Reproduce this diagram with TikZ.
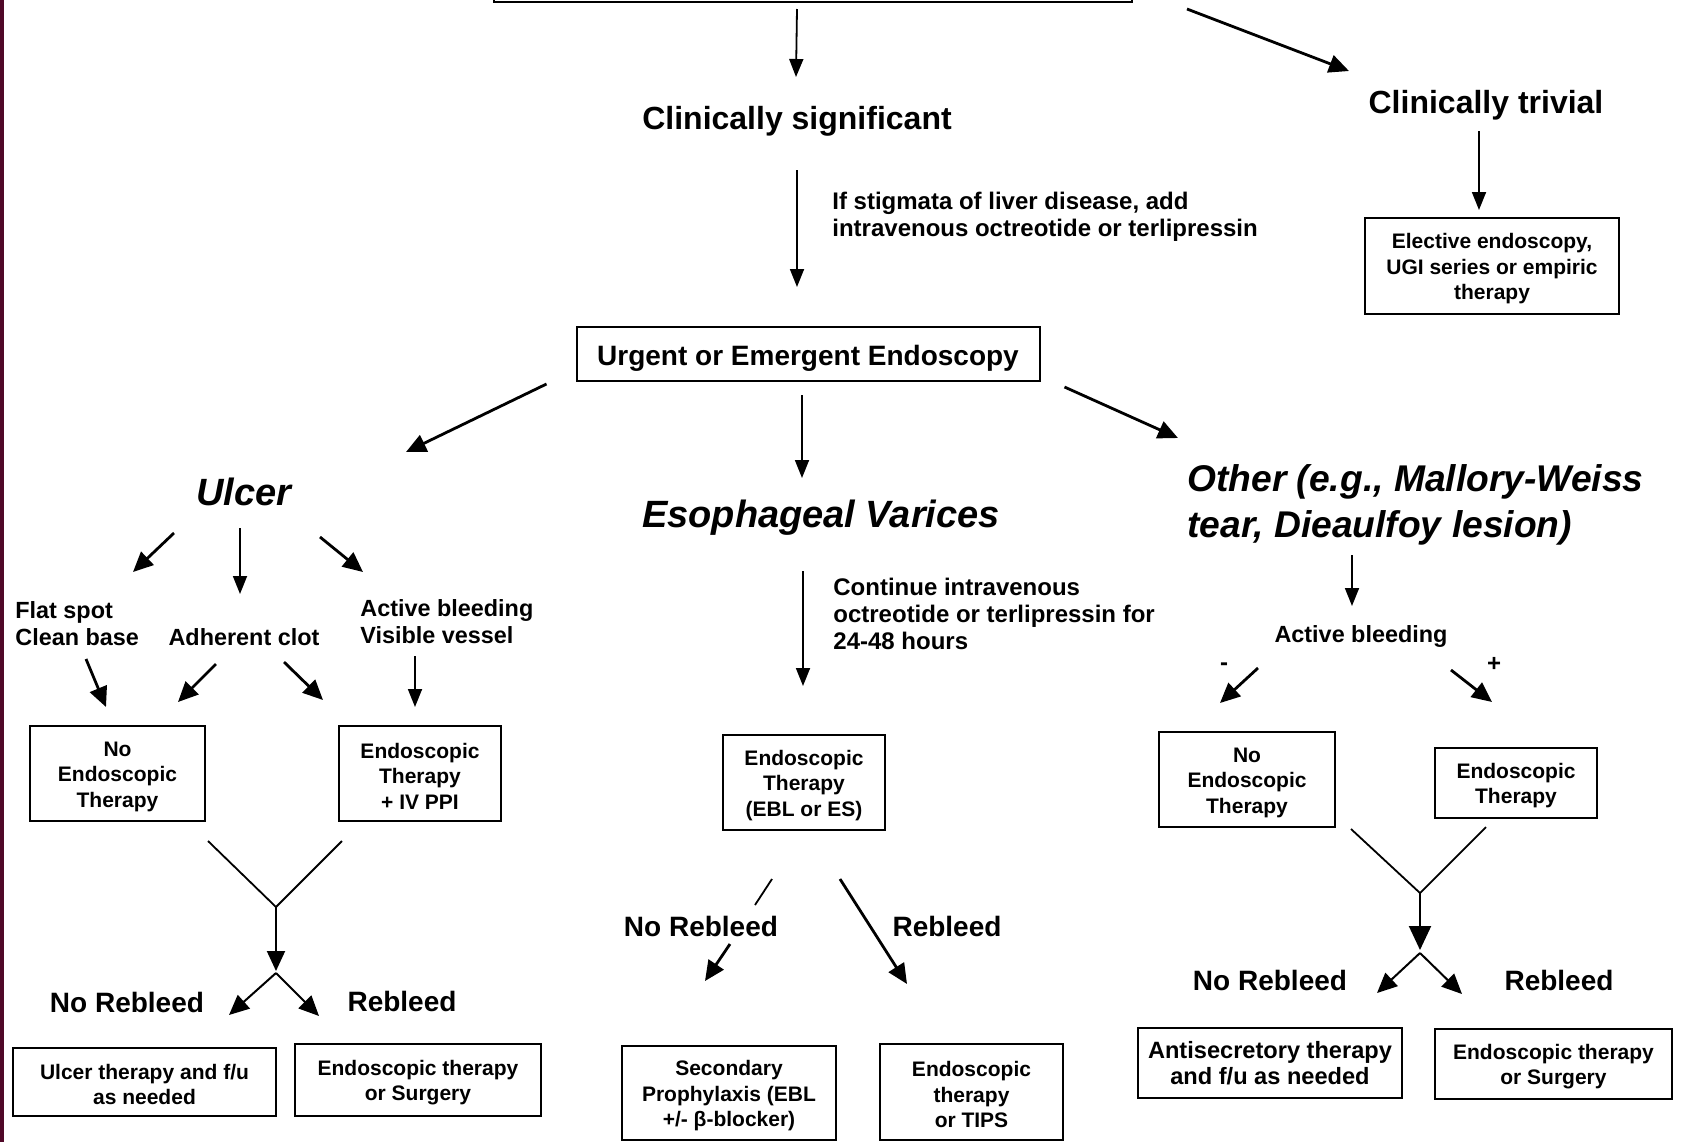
\documentclass[tikz,border=0pt]{standalone}
\usepackage{fontspec}
\setmainfont{Liberation Sans}
\usetikzlibrary{arrows.meta}

\definecolor{edgecol}{RGB}{80,8,40}

\newcommand{\headfont}{\fontsize{16}{19}\selectfont\bfseries}
\newcommand{\midfont}{\fontsize{14}{17}\selectfont\bfseries}
\newcommand{\titlefont}{\fontsize{19}{23}\selectfont\bfseries\itshape}
\newcommand{\notefont}{\fontsize{12}{13.7}\selectfont\bfseries}
\newcommand{\smallfont}{\fontsize{11.7}{13.5}\selectfont\bfseries}
\newcommand{\boxfont}{\fontsize{10.5}{12.7}\selectfont\bfseries}
\newcommand{\boxstrut}{\rule{0pt}{10.3pt}}

\tikzset{
    txt/.style={inner sep=0pt, align=center},
    boxed/.style={draw, line width=1pt, inner sep=0pt, align=center, font=\boxfont},
    arr/.style={line width=0.9pt, -{Triangle[length=9pt,width=7pt]}},
    barr/.style={line width=1.4pt, -{Triangle[length=10pt,width=9pt]}},
    jarr/.style={line width=1pt, -{Triangle[length=10pt,width=9pt]}},
    yline/.style={line width=0.9pt}
}

\begin{document}
\begin{tikzpicture}[x=0.5pt, y=-0.5pt]
	\useasboundingbox (0,0) rectangle (1683,1142);
	\clip (0,0) rectangle (1683,1142);

    % slide edge
	\fill[edgecol] (0,0) rectangle (4,1142);

    % Top of the chart
	\node[boxed, minimum width=319pt, minimum height=40pt, anchor=south] (top) at (813,3) {};
	\node[txt, font=\headfont] (sig) at (797,121) {Clinically significant};
	\node[txt, font=\headfont] (triv) at (1486,105) {Clinically trivial};
	\node[txt, font=\notefont, anchor=west, align=left] (stig) at (832,217) {If stigmata of liver disease, add\\intravenous octreotide or terlipressin};
	\node[boxed, minimum width=127pt, minimum height=48pt] (elect) at (1492,266) {\boxstrut Elective endoscopy,\\UGI series or empiric\\therapy};
	\node[boxed, font=\midfont, minimum width=231.5pt, minimum height=27pt] (urgent) at (808,354) {\rule{0pt}{14.5pt}Urgent or Emergent Endoscopy};

	\draw[arr] ([shift={(-16,6)}]top.south) -- ([shift={(-1,-44)}]sig.center);
	\draw[barr] ([shift={(54,6)}]top.south east) -- ([shift={(-137,-34)}]triv.center);
	\draw[arr] ([shift={(0,49)}]sig.center) -- ([shift={(-11,-39)}]urgent.north);
	\draw[arr] ([shift={(-7,26)}]triv.center) -- ([shift={(-13,-7)}]elect.north);

    % Three findings
	\node[txt, font=\titlefont] (ulcer) at (244,492) {Ulcer};
	\node[txt, font=\titlefont] (varices) at (821,518) {Esophageal Varices};
	\node[txt, font=\fontsize{18.6}{23}\selectfont\bfseries\itshape, anchor=west, align=left] (other) at (1187,505) {Other (e.g., Mallory-Weiss\\tear, Dieaulfoy lesion)};

	\draw[barr] ([shift={(-29,2)}]urgent.south west) -- ([shift={(162,-40)}]ulcer.center);
	\draw[arr] ([shift={(-6,13)}]urgent.south) -- ([shift={(-19,-40)}]varices.center);
	\draw[barr] ([shift={(24,5)}]urgent.south east) -- ([shift={(-9,-67)}]other.west);

    % Ulcer branch
	\node[txt, font=\smallfont, anchor=west, align=left] (flat) at (15,624) {Flat spot\\Clean base};
	\node[txt, font=\smallfont] (adh) at (244,637) {Adherent clot};
	\node[txt, font=\smallfont, anchor=west, align=left] (act) at (360,622) {Active bleeding\\Visible vessel};
	\node[boxed, minimum width=87.5pt, minimum height=47.5pt] (noendo1) at (117.5,773.5) {\boxstrut No\\Endoscopic\\Therapy};
	\node[boxed, minimum width=81pt, minimum height=47.5pt] (endo1) at (420,773.5) {\boxstrut Endoscopic\\Therapy\\+ IV PPI};
	\node[txt, font=\midfont] (norebl1) at (127,1002) {No Rebleed};
	\node[txt, font=\midfont] (rebl1) at (402,1001) {Rebleed};
	\node[boxed, minimum width=131.5pt, minimum height=34pt] (ulcertx) at (144.5,1082) {\boxstrut Ulcer therapy and f/u\\as needed};
	\node[boxed, minimum width=123pt, minimum height=36pt] (surg1) at (418,1080) {\boxstrut Endoscopic therapy\\or Surgery};
	\coordinate (j1) at (276,907);
	\coordinate (j2) at (276,973);

	\draw[barr] ([shift={(-70,41)}]ulcer.center) -- ([shift={(118,-52)}]flat.west);
	\draw[arr] ([shift={(-4,36)}]ulcer.center) -- ([shift={(-4,-43)}]adh.center);
	\draw[barr] ([shift={(76,45)}]ulcer.center) -- ([shift={(3,-50)}]act.west);
	\draw[barr] ([shift={(71,35)}]flat.west) -- ([shift={(-11.5,-18)}]noendo1.north);
	\draw[barr] ([shift={(-28,27)}]adh.center) -- ([shift={(-28,-23)}]noendo1.north east);
	\draw[barr] ([shift={(40,25)}]adh.center) -- ([shift={(-15,-25)}]endo1.north west);
	\draw[arr] ([shift={(55,34)}]act.west) -- ([shift={(-5,-18)}]endo1.north);
	\draw[yline] ([shift={(2,19)}]noendo1.south east) -- (j1) -- ([shift={(4,19)}]endo1.south west);
	\draw[jarr, shorten >=1pt] (j1) -- (j2);
	\draw[jarr] (j2) -- ([shift={(-48,-32)}]ulcertx.north east);
	\draw[jarr] (j2) -- ([shift={(25,-27)}]surg1.north west);

    % Varices branch
	\node[txt, font=\notefont, anchor=west, align=left] (contin) at (833,614) {Continue intravenous\\octreotide or terlipressin for\\24-48 hours};
	\node[boxed, minimum width=81pt, minimum height=47.5pt] (endo2) at (804,782.5) {\boxstrut Endoscopic\\Therapy\\(EBL or ES)};
	\node[txt, font=\midfont] (norebl2) at (701,926) {No Rebleed};
	\node[txt, font=\midfont] (rebl2) at (947,926) {Rebleed};
	\node[boxed, minimum width=107pt, minimum height=47pt] (secpro) at (729,1093) {\boxstrut Secondary\\Prophylaxis (EBL\\+/- β-blocker)};
	\node[boxed, minimum width=91.5pt, minimum height=48pt] (tips) at (971.5,1092) {\boxstrut Endoscopic\\therapy\\or TIPS};

	\draw[arr] ([shift={(-18,53)}]varices.center) -- ([shift={(-1,-48)}]endo2.north);
	\draw[yline] ([shift={(-32,48)}]endo2.south) -- ([shift={(54,-21)}]norebl2.center);
	\draw[barr] ([shift={(29,18)}]norebl2.center) -- ([shift={(-24,-64)}]secpro.north);
	\draw[barr] ([shift={(36,48)}]endo2.south) -- ([shift={(-64.5,-59)}]tips.north);

    % Other branch
	\node[txt, font=\smallfont] (actr) at (1361,636) {Active bleeding};
	\node[txt, font=\notefont] (minus) at (1224,667) {-};
	\node[txt, font=\notefont] (plus) at (1494,664) {+};
	\node[boxed, minimum width=88pt, minimum height=47.5pt] (noendo3) at (1247,779.5) {\boxstrut No\\Endoscopic\\Therapy};
	\node[boxed, minimum width=81pt, minimum height=35pt] (endo3) at (1516,783) {\boxstrut Endoscopic\\Therapy};
	\node[txt, font=\midfont] (norebl3) at (1270,980) {No Rebleed};
	\node[txt, font=\midfont] (rebl3) at (1559,980) {Rebleed};
	\node[boxed, font=\fontsize{11.8}{13}\selectfont\bfseries, minimum width=132pt, minimum height=35pt] (antisec) at (1270,1063) {Antisecretory therapy\\and f/u as needed};
	\node[boxed, minimum width=118.5pt, minimum height=35pt] (surg3) at (1553.5,1064) {\boxstrut Endoscopic therapy\\or Surgery};
	\coordinate (j3) at (1420,893);
	\coordinate (j4) at (1420,953);

	\draw[arr] ([shift={(165,50)}]other.west) -- ([shift={(-9,-30)}]actr.center);
	\draw[barr] ([shift={(-103,32)}]actr.center) -- ([shift={(-27,-28)}]noendo3.north);
	\draw[barr] ([shift={(90,34)}]actr.center) -- ([shift={(-24,-45)}]endo3.north);
	\draw[yline] ([shift={(15,1)}]noendo3.south east) -- (j3) -- ([shift={(52,8)}]endo3.south west);
	\draw[jarr, -{Triangle[length=12pt,width=11pt]}, shorten >=1.5pt] (j3) -- (j4);
	\draw[jarr] (j4) -- ([shift={(-26,-34)}]antisec.north east);
	\draw[jarr] (j4) -- ([shift={(28,-34)}]surg3.north west);

\end{tikzpicture}
\end{document}
